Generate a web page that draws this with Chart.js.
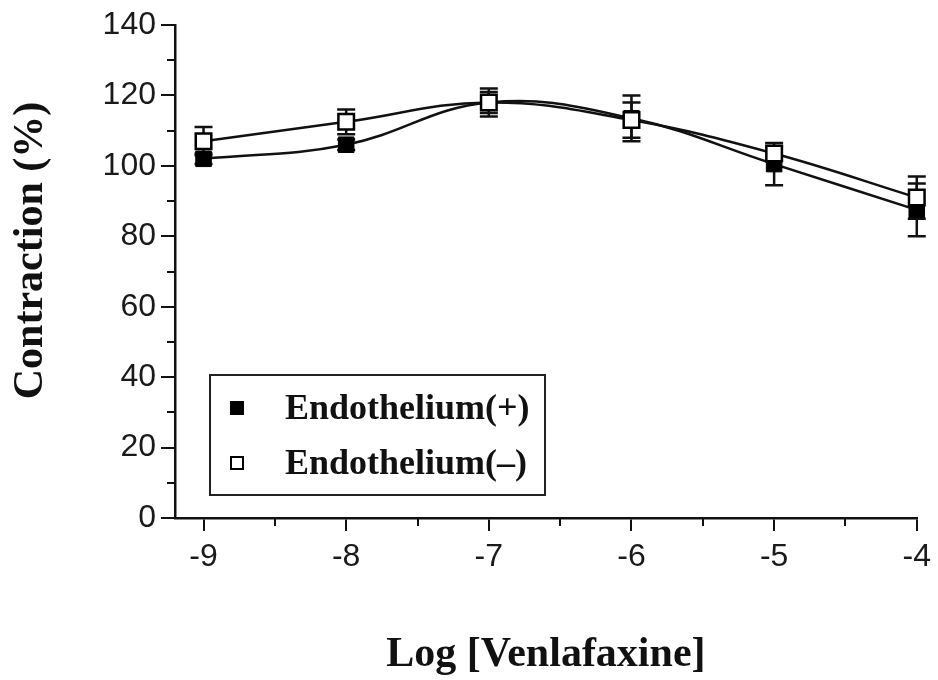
<!DOCTYPE html>
<html>
<head>
<meta charset="utf-8">
<script src="https://cdn.jsdelivr.net/npm/chart.js@4.4.1/dist/chart.umd.min.js"></script>
<style>
html,body{margin:0;padding:0;background:#fff;}
#wrap{width:938px;height:680px;position:relative;}
</style>
</head>
<body>
<div id="wrap"><canvas id="c" width="938" height="680"></canvas></div>
<script>
// ---- data ----
const logConc = [-9, -8, -7, -6, -5, -4];
const endoPlus = [102, 106, 118, 113.5, 100.5, 87.5];
const endoPlusErr = [1.5, 1.5, 3, 6.5, 6, 7.5];
const endoMinus = [107, 112.5, 118, 113, 103.5, 91];
const endoMinusErr = [4, 3.5, 4, 5, 2, 6];
const xTickValues = [-9, -8.5, -8, -7.5, -7, -6.5, -6, -5.5, -5, -4.5, -4];
const xTickLabels = ['-9', '-8', '-7', '-6', '-5', '-4'];
const yTickValues = [0, 10, 20, 30, 40, 50, 60, 70, 80, 90, 100, 110, 120, 130, 140];
const yTickLabels = ['0', '20', '40', '60', '80', '100', '120', '140'];
const seriesNames = ['Endothelium(+)', 'Endothelium(\u2013)'];

const toPts = (ys) => logConc.map((x, i) => ({x: x, y: ys[i]}));
const isMajorX = (v) => logConc.indexOf(v) >= 0;
const isMajorY = (v) => v % 20 === 0;

const errorBarPlugin = {
  id: 'errorBars',
  beforeDatasetsDraw(chart) {
    const ctx = chart.ctx;
    const xs = chart.scales.x, ys = chart.scales.y;
    const sets = [[endoPlus, endoPlusErr], [endoMinus, endoMinusErr]];
    ctx.save();
    ctx.strokeStyle = '#111';
    ctx.lineWidth = 2.5;
    sets.forEach(([vals, errs]) => {
      logConc.forEach((x, i) => {
        const px = xs.getPixelForValue(x);
        const top = ys.getPixelForValue(vals[i] + errs[i]);
        const bot = ys.getPixelForValue(vals[i] - errs[i]);
        ctx.beginPath();
        ctx.moveTo(px, top); ctx.lineTo(px, bot);
        ctx.moveTo(px - 9, top); ctx.lineTo(px + 9, top);
        ctx.moveTo(px - 9, bot); ctx.lineTo(px + 9, bot);
        ctx.stroke();
      });
    });
    ctx.restore();
  }
};

const minorTickPlugin = {
  id: 'minorTicks',
  afterDraw(chart) {
    const ctx = chart.ctx;
    const xs = chart.scales.x, ys = chart.scales.y;
    const a = chart.chartArea;
    ctx.save();
    ctx.strokeStyle = '#111';
    ctx.lineWidth = 2;
    ctx.beginPath();
    xTickValues.filter(v => !isMajorX(v)).forEach(v => {
      const px = Math.round(xs.getPixelForValue(v));
      ctx.moveTo(px, a.bottom); ctx.lineTo(px, a.bottom + 8);
    });
    yTickValues.filter(v => !isMajorY(v)).forEach(v => {
      const py = Math.round(ys.getPixelForValue(v));
      ctx.moveTo(a.left, py); ctx.lineTo(a.left - 8, py);
    });
    ctx.stroke();
    ctx.restore();
  }
};

const legendPlugin = {
  id: 'boxLegend',
  afterDraw(chart) {
    const ctx = chart.ctx;
    const a = chart.chartArea;
    const bx = a.left + 35, by = a.top + 350, bw = 335, bh = 120;
    ctx.save();
    ctx.fillStyle = '#fff';
    ctx.fillRect(bx, by, bw, bh);
    ctx.strokeStyle = '#222';
    ctx.lineWidth = 2;
    ctx.strokeRect(bx, by, bw, bh);
    const rows = [by + 33, by + 88];
    ctx.fillStyle = '#000';
    ctx.fillRect(bx + 20, rows[0] - 7, 14, 14);
    ctx.fillStyle = '#fff';
    ctx.fillRect(bx + 20, rows[1] - 7, 14, 14);
    ctx.lineWidth = 2;
    ctx.strokeStyle = '#000';
    ctx.strokeRect(bx + 21, rows[1] - 6, 12, 12);
    ctx.fillStyle = '#111';
    ctx.font = 'bold 36px "Liberation Serif", "Times New Roman", serif';
    ctx.textBaseline = 'middle';
    ctx.textAlign = 'left';
    ctx.fillText(seriesNames[0], bx + 75, rows[0] + 2);
    ctx.fillText(seriesNames[1], bx + 75, rows[1] + 2);
    ctx.restore();
  }
};

new Chart(document.getElementById('c'), {
  type: 'line',
  data: {
    datasets: [
      {
        label: seriesNames[0],
        data: toPts(endoPlus),
        borderColor: '#111',
        borderWidth: 2.5,
        backgroundColor: '#000',
        pointStyle: 'rect',
        pointRadius: 11,
        pointBorderColor: '#000',
        pointBackgroundColor: '#000',
        pointBorderWidth: 1,
        tension: 0.4,
        clip: false,
        order: 2
      },
      {
        label: seriesNames[1],
        data: toPts(endoMinus),
        borderColor: '#111',
        borderWidth: 2.5,
        backgroundColor: '#fff',
        pointStyle: 'rect',
        pointRadius: 11,
        pointBorderColor: '#000',
        pointBackgroundColor: '#fff',
        pointBorderWidth: 2.5,
        tension: 0.4,
        clip: false,
        order: 1
      }
    ]
  },
  options: {
    responsive: false,
    animation: false,
    layout: {padding: {top: 25, right: 20, left: 0, bottom: 0}},
    plugins: {legend: {display: false}, tooltip: {enabled: false}},
    scales: {
      x: {
        type: 'linear',
        min: -9.2,
        max: -4,
        afterBuildTicks(scale) { scale.ticks = xTickValues.map(v => ({value: v})); },
        afterFit(scale) { scale.height = 162; },
        grid: {
          display: true, drawOnChartArea: false, drawTicks: true, tickLength: 13,
          tickColor: (c) => (c.tick && isMajorX(c.tick.value)) ? '#111' : 'rgba(0,0,0,0)',
          lineWidth: 2
        },
        border: {display: true, color: '#111', width: 2.5},
        ticks: {
          autoSkip: false,
          maxRotation: 0,
          padding: 7,
          color: '#1a1a1a',
          font: {family: '"Liberation Sans", Arial, sans-serif', size: 32},
          callback(v) {
            const idx = logConc.indexOf(v);
            return idx >= 0 ? xTickLabels[idx] : '';
          }
        },
        title: {
          display: true,
          text: 'Log [Venlafaxine]',
          color: '#111',
          font: {family: '"Liberation Serif", "Times New Roman", serif', size: 42, weight: 'bold'},
          padding: {top: 0, bottom: 0}
        }
      },
      y: {
        min: 0,
        max: 140,
        afterBuildTicks(scale) { scale.ticks = yTickValues.map(v => ({value: v})); },
        afterFit(scale) { scale.width = 175; },
        grid: {
          display: true, drawOnChartArea: false, drawTicks: true, tickLength: 14,
          tickColor: (c) => (c.tick && isMajorY(c.tick.value)) ? '#111' : 'rgba(0,0,0,0)',
          lineWidth: 2
        },
        border: {display: true, color: '#111', width: 2.5},
        ticks: {
          autoSkip: false,
          padding: 5,
          color: '#1a1a1a',
          font: {family: '"Liberation Sans", Arial, sans-serif', size: 32},
          callback(v) {
            return isMajorY(v) ? yTickLabels[v / 20] : '';
          }
        },
        title: {
          display: true,
          text: '    Contraction (%)',
          color: '#111',
          font: {family: '"Liberation Serif", "Times New Roman", serif', size: 42, weight: 'bold'},
          padding: {top: 6, bottom: 0}
        }
      }
    }
  },
  plugins: [errorBarPlugin, minorTickPlugin, legendPlugin]
});
</script>
</body>
</html>
